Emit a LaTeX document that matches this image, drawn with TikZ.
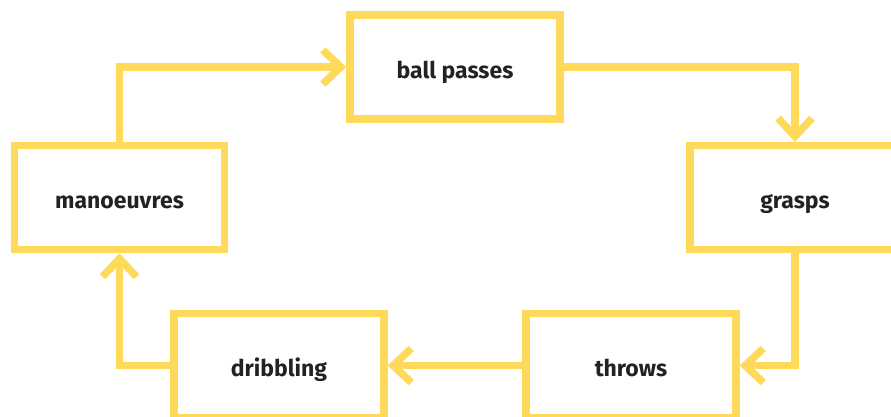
\documentclass[tikz,border=0pt]{standalone}
\usepackage{fontspec}
\setmainfont{Fira Sans}
\usetikzlibrary{arrows.meta}
\definecolor{ylw}{HTML}{FFD95A}
\definecolor{txt}{HTML}{222222}
\tikzset{
  stagebox/.style={draw=ylw, line width=7.5pt, rectangle, minimum width=210pt, minimum height=104pt,
    inner sep=0pt, text height=24pt, text depth=2pt, text=txt,
    font=\fontsize{23}{26}\selectfont\bfseries},
  flow/.style={draw=ylw, line width=7.5pt, line cap=butt, line join=miter,
    -{Straight Barb[length=18pt, width=34pt]}}
}
\begin{document}
\begin{tikzpicture}[x=1pt,y=-1pt]
\useasboundingbox (0,0) rectangle (891,416);
\clip (0,0) rectangle (891,416);
\node[stagebox] (ball) at (455,67) {ball passes};
\node[stagebox] (grasps) at (795,197.5) {grasps};
\node[stagebox] (throws) at (631,365.5) {throws};
\node[stagebox] (dribbling) at (279,365.5) {dribbling};
\node[stagebox] (man) at (119.5,197.5) {manoeuvres};
\draw[flow] (man.north) |- (ball.west);
\draw[flow] (ball.east) -| (grasps.north);
\draw[flow] (grasps.south) |- (throws.east);
\draw[flow] (throws.west) -- (dribbling.east);
\draw[flow] (dribbling.west) -| (man.south);
\end{tikzpicture}
\end{document}
